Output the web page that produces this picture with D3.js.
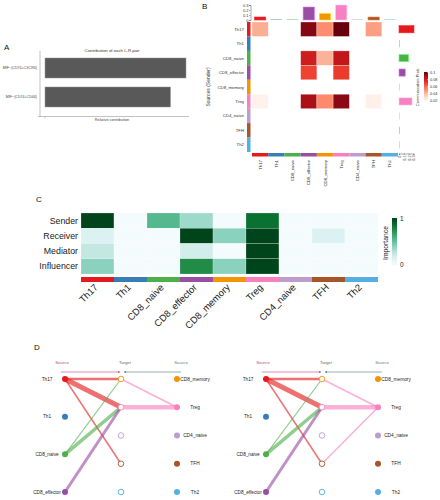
<!DOCTYPE html>
<html><head><meta charset="utf-8">
<script src="https://cdn.jsdelivr.net/npm/d3@7/dist/d3.min.js"></script>
<style>body{margin:0;background:#fff}svg{display:block;font-family:"Liberation Sans",Arial,sans-serif}</style>
</head><body>
<svg id="c" width="440" height="500"></svg>
<script>
// ---------- DATA ----------
const cellTypes = ["Th17","Th1","CD8_naive","CD8_effector","CD8_memory","Treg","CD4_naive","TFH","Th2"];
const cellColors = ["#E41A1C","#377EB8","#4DAF4A","#984EA3","#F29403","#F781BF","#BC9DCC","#A65628","#54B0E4"];

// Panel A
const lrPairs = ["MIF\u2212(CD74+CXCR4)","MIF\u2212(CD74+CD44)"];
const lrContribution = [1.0, 0.89];

// Panel B: communication probability (rows = sources, cols = targets)
const probTh17        = [0.042,0,0,0.095,0.050,0.100,0,0.046,0];
const probTh1         = [0,0,0,0,0,0,0,0,0];
const probCD8naive    = [0,0,0,0.079,0.041,0.082,0,0,0];
const probCD8effector = [0,0,0,0.068,0,0.070,0,0,0];
const probCD8memory   = [0,0,0,0,0,0,0,0,0];
const probTreg        = [0.020,0,0,0.088,0.051,0.094,0,0.021,0];
const probCD4naive    = [0,0,0,0,0,0,0,0,0];
const probTFH         = [0,0,0,0,0,0,0,0,0];
const probTh2         = [0,0,0,0,0,0,0,0,0];
const commProb = [probTh17,probTh1,probCD8naive,probCD8effector,probCD8memory,probTreg,probCD4naive,probTFH,probTh2];
const incomingTotal = [0.06,0,0,0.26,0.13,0.30,0,0.06,0];
const outgoingTotal = [0.31,0,0.20,0.13,0,0.27,0,0,0];
const barTicks = [0,0.1,0.2,0.3];
const probTicks = [0.02,0.04,0.06,0.08,0.1];

// Panel C: network centrality importance
const roles = ["Sender","Receiver","Mediator","Influencer"];
const impSender     = [1.0,0,0.55,0.35,0,0.85,0,0,0];
const impReceiver   = [0.15,0,0,1.0,0.4,1.0,0,0.15,0];
const impMediator   = [0.25,0,0,0.2,0,1.0,0,0,0];
const impInfluencer = [0.4,0,0,0.75,0.4,1.0,0,0,0];
const importance = [impSender,impReceiver,impMediator,impInfluencer];

// Panel D: hierarchy plots
const hierSources = ["Th17","Th1","CD8_naive","CD8_effector"];
const hierTargets = ["CD8_memory","Treg","CD4_naive","TFH","Th2"];
const edgesLeft = [
  {from:"Th17",side:"L",to:"CD8_memory",w:0.046},
  {from:"Th17",side:"L",to:"Treg",w:0.10},
  {from:"Th17",side:"L",to:"TFH",w:0.03},
  {from:"CD8_naive",side:"L",to:"CD8_memory",w:0.024},
  {from:"CD8_naive",side:"L",to:"Treg",w:0.07},
  {from:"CD8_effector",side:"L",to:"Treg",w:0.06},
  {from:"Treg",side:"R",to:"CD8_memory",w:0.032},
  {from:"Treg",side:"R",to:"Treg",w:0.09}
];
const edgesRight = [
  {from:"Th17",side:"L",to:"CD8_memory",w:0.046},
  {from:"Th17",side:"L",to:"Treg",w:0.10},
  {from:"Th17",side:"L",to:"TFH",w:0.03},
  {from:"CD8_naive",side:"L",to:"CD8_memory",w:0.024},
  {from:"CD8_naive",side:"L",to:"Treg",w:0.07},
  {from:"CD8_effector",side:"L",to:"Treg",w:0.06},
  {from:"Treg",side:"R",to:"CD8_memory",w:0.032},
  {from:"Treg",side:"R",to:"Treg",w:0.09},
  {from:"Treg",side:"R",to:"TFH",w:0.032}
];

// ---------- DRAW ----------
const svg = d3.select("#c");
const colorOf = d3.scaleOrdinal(cellTypes, cellColors);
const FONT = '"Liberation Sans",Arial,sans-serif';
const defs = svg.append("defs");

function panelLabel(t,x,y){ svg.append("text").attr("x",x).attr("y",y).attr("font-size",8).attr("fill","#111").text(t); }

// ===== Panel A =====
panelLabel("A",4,50);
{
  const g = svg.append("g");
  const x = d3.scaleLinear([0,1],[45,186]);
  const y = d3.scaleBand(lrPairs,[53.5,111.5]).paddingInner(0.31).paddingOuter(0.155);
  g.append("text").attr("x",112).attr("y",51.5).attr("text-anchor","middle").attr("font-size",4.3).attr("fill","#333").text("Contribution of each L-R pair");
  g.append("line").attr("x1",40).attr("x2",40).attr("y1",51).attr("y2",117).attr("stroke","#999").attr("stroke-width",0.6);
  g.append("line").attr("x1",38).attr("x2",189).attr("y1",116.5).attr("y2",116.5).attr("stroke","#999").attr("stroke-width",0.6);
  g.append("line").attr("x1",45).attr("x2",45).attr("y1",116.5).attr("y2",118.5).attr("stroke","#999").attr("stroke-width",0.5);
  g.selectAll("rect.a").data(lrPairs).join("rect").attr("class","a")
    .attr("x",x(0)).attr("y",d=>y(d)).attr("width",(d,i)=>x(lrContribution[i])-x(0)).attr("height",y.bandwidth())
    .attr("fill","#595959").attr("stroke","#9a9a9a").attr("stroke-width",0.5);
  g.selectAll("text.al").data(lrPairs).join("text").attr("class","al")
    .attr("x",37).attr("y",d=>y(d)+y.bandwidth()/2).attr("dy","0.35em").attr("text-anchor","end")
    .attr("font-size",3.6).attr("fill","#444").text(d=>d);
  g.append("text").attr("x",112).attr("y",120.5).attr("text-anchor","middle").attr("font-size",3.8).attr("fill","#444").text("Relative contribution");
}

// ===== Panel B =====
panelLabel("B",202,9);
{
  const g = svg.append("g");
  const x = d3.scaleBand(cellTypes,[252,398]);
  const y = d3.scaleBand(cellTypes,[22,152]);
  const probColor = v => d3.interpolateReds(Math.max(0,Math.min(1,(v-0.0185)/0.0815)));
  cellTypes.forEach((src,i)=>{
    g.selectAll(null).data(commProb[i].map((v,j)=>({v,t:cellTypes[j]})).filter(d=>d.v>0)).join("rect")
      .attr("x",d=>x(d.t)).attr("y",y(src)).attr("width",x.bandwidth()).attr("height",y.bandwidth())
      .attr("fill",d=>probColor(d.v)).attr("stroke","#fff").attr("stroke-opacity",0.6).attr("stroke-width",0.5);
  });
  g.selectAll("rect.lc").data(cellTypes).join("rect").attr("class","lc")
    .attr("x",247).attr("y",d=>y(d)).attr("width",3.5).attr("height",y.bandwidth()).attr("fill",d=>colorOf(d));
  g.selectAll("rect.bc").data(cellTypes).join("rect").attr("class","bc")
    .attr("x",d=>x(d)).attr("y",153).attr("width",x.bandwidth()).attr("height",3.5).attr("fill",d=>colorOf(d));
  g.selectAll("text.rl").data(cellTypes).join("text").attr("class","rl")
    .attr("x",244).attr("y",d=>y(d)+y.bandwidth()/2).attr("dy","0.35em").attr("text-anchor","end")
    .attr("font-size",4.3).attr("fill","#333").text(d=>d);
  g.selectAll("text.cl").data(cellTypes).join("text").attr("class","cl")
    .attr("transform",d=>`translate(${x(d)+x.bandwidth()/2+1.5},160) rotate(-90)`).attr("text-anchor","end")
    .attr("font-size",4.3).attr("fill","#333").text(d=>d);
  g.append("text").attr("transform","translate(210,87) rotate(-90)").attr("text-anchor","middle")
    .attr("font-size",5).attr("fill","#333").text("Sources (Sender)");
  const yt = d3.scaleLinear([0,0.3],[20,5]);
  g.selectAll("rect.tb").data(cellTypes).join("rect").attr("class","tb")
    .attr("x",d=>x(d)+x.bandwidth()*0.15).attr("width",x.bandwidth()*0.7)
    .attr("y",(d,i)=>incomingTotal[i]>0?yt(incomingTotal[i]):19.3)
    .attr("height",(d,i)=>incomingTotal[i]>0?yt(0)-yt(incomingTotal[i]):0.7)
    .attr("fill",d=>colorOf(d)).attr("stroke",(d,i)=>incomingTotal[i]>0?d3.color(colorOf(d)).brighter(1.2):"none").attr("stroke-width",0.6)
    .attr("opacity",(d,i)=>incomingTotal[i]>0?1:0.6);
  const ay = g.append("g").attr("transform","translate(250.5,0)").call(d3.axisLeft(yt).tickValues(barTicks).tickFormat(d3.format("~g")).tickSize(1.5));
  ay.select(".domain").attr("stroke","#555").attr("stroke-width",0.5);
  ay.selectAll("line").attr("stroke","#555").attr("stroke-width",0.5);
  ay.selectAll("text").attr("font-size",4).attr("fill","#333").attr("x",-2).attr("font-family",FONT);
  const xr = d3.scaleLinear([0,0.3],[399,413.5]);
  g.selectAll("rect.rb").data(cellTypes).join("rect").attr("class","rb")
    .attr("y",d=>y(d)+y.bandwidth()*0.25).attr("height",y.bandwidth()*0.5)
    .attr("x",xr(0)).attr("width",(d,i)=>outgoingTotal[i]>0?xr(outgoingTotal[i])-xr(0):0.6)
    .attr("fill",d=>colorOf(d)).attr("stroke",(d,i)=>outgoingTotal[i]>0?d3.color(colorOf(d)).brighter(1.2):"none").attr("stroke-width",0.6)
    .attr("opacity",(d,i)=>outgoingTotal[i]>0?1:0.6);
  const ax = g.append("g").attr("transform","translate(0,153.5)").call(d3.axisBottom(xr).tickValues(barTicks).tickFormat(d3.format("~g")).tickSize(1.5));
  ax.select(".domain").attr("stroke","#555").attr("stroke-width",0.5);
  ax.selectAll("line").attr("stroke","#555").attr("stroke-width",0.5);
  ax.selectAll("text").attr("font-size",3.8).attr("fill","#333").attr("font-family",FONT)
    .attr("transform","rotate(-90)").attr("text-anchor","end").attr("x",-2).attr("y",0).attr("dy","0.35em");
  const grad = defs.append("linearGradient").attr("id","gR").attr("x1",0).attr("x2",0).attr("y1",1).attr("y2",0);
  d3.range(0,1.01,0.1).forEach(t=>grad.append("stop").attr("offset",t).attr("stop-color",probColor(0.017+t*0.083)));
  const ly = d3.scaleLinear([0.02,0.1],[101,72.5]);
  g.append("rect").attr("x",424).attr("y",72).attr("width",4).attr("height",29.5).attr("fill","url(#gR)");
  g.selectAll("text.lg").data(probTicks).join("text").attr("class","lg")
    .attr("x",430).attr("y",d=>ly(d)).attr("dy","0.35em").attr("font-size",3.8).attr("fill","#333").text(d=>d3.format("~g")(d));
  g.selectAll("line.lg").data(probTicks).join("line").attr("class","lg")
    .attr("x1",427).attr("x2",428).attr("y1",d=>ly(d)).attr("y2",d=>ly(d)).attr("stroke","#fff").attr("stroke-width",0.4);
  g.append("text").attr("transform","translate(419,87) rotate(-90)").attr("text-anchor","middle")
    .attr("font-size",4).attr("fill","#333").text("Communication Prob.");
}

// ===== Panel C =====
panelLabel("C",36,202);
{
  const g = svg.append("g");
  const x = d3.scaleBand(cellTypes,[81,378]);
  const y = d3.scaleBand(roles,[213,274]);
  const col = v => d3.interpolateBuGn(0.02 + v*0.98);
  roles.forEach((r,i)=>{
    g.selectAll(null).data(importance[i].map((v,j)=>({v,t:cellTypes[j]}))).join("rect")
      .attr("x",d=>x(d.t)).attr("y",y(r)).attr("width",x.bandwidth()).attr("height",y.bandwidth())
      .attr("fill",d=>col(d.v)).attr("stroke","#fff").attr("stroke-width",0.4).attr("stroke-opacity",0.5);
  });
  g.selectAll("rect.cb").data(cellTypes).join("rect").attr("class","cb")
    .attr("x",d=>x(d)).attr("y",277).attr("width",x.bandwidth()).attr("height",5).attr("fill",d=>colorOf(d));
  g.selectAll("text.rl").data(roles).join("text").attr("class","rl")
    .attr("x",78).attr("y",d=>y(d)+y.bandwidth()/2).attr("dy","0.35em").attr("text-anchor","end")
    .attr("font-size",8.8).attr("fill","#222").text(d=>d);
  g.selectAll("text.cl").data(cellTypes).join("text").attr("class","cl")
    .attr("transform",d=>`translate(${x(d)+x.bandwidth()/2+1},288) rotate(-45)`).attr("text-anchor","end")
    .attr("font-size",9.5).attr("fill","#222").text(d=>d);
  const grad = defs.append("linearGradient").attr("id","gG").attr("x1",0).attr("x2",0).attr("y1",1).attr("y2",0);
  d3.range(0,1.01,0.1).forEach(t=>grad.append("stop").attr("offset",t).attr("stop-color",col(t)));
  const ly = d3.scaleLinear([0,1],[265,218.5]);
  g.append("rect").attr("x",392).attr("y",218).attr("width",5).attr("height",47.5).attr("fill","url(#gG)");
  g.selectAll("text.lg").data([0,1]).join("text").attr("class","lg")
    .attr("x",400).attr("y",d=>ly(d)).attr("dy","0.35em").attr("font-size",6.5).attr("fill","#222").text(d=>d);
  g.append("text").attr("transform","translate(388,243) rotate(-90)").attr("text-anchor","middle")
    .attr("font-size",6.8).attr("fill","#222").text("Importance");
}

// ===== Panel D =====
panelLabel("D",34,350);
function hierarchy(ox, edges, id){
  const g = svg.append("g").attr("transform",`translate(${ox},0)`);
  const xs = 65, xt = 121, xrr = 177;
  const ysrc = d3.scalePoint(hierSources,[379,492]);
  const ytg = d3.scalePoint(hierTargets,[379,492]);
  const wScale = d3.scaleLinear([0,0.1],[0,5]);
  g.append("text").attr("x",62).attr("y",364).attr("text-anchor","middle").attr("font-size",4.3).attr("fill","#b0508a").text("Source");
  g.append("text").attr("x",125).attr("y",364).attr("text-anchor","middle").attr("font-size",4.3).attr("fill","#666").text("Target");
  g.append("text").attr("x",181).attr("y",364).attr("text-anchor","middle").attr("font-size",4.3).attr("fill","#5f8580").text("Source");
  defs.append("marker").attr("id","mp"+id).attr("viewBox","0 0 10 10").attr("refX",9).attr("refY",5)
    .attr("markerWidth",4).attr("markerHeight",4).attr("orient","auto")
    .append("path").attr("d","M0,1L10,5L0,9Z").attr("fill","#c2407f");
  defs.append("marker").attr("id","mg"+id).attr("viewBox","0 0 10 10").attr("refX",9).attr("refY",5)
    .attr("markerWidth",4).attr("markerHeight",4).attr("orient","auto")
    .append("path").attr("d","M0,1L10,5L0,9Z").attr("fill","#4a7a72");
  g.append("line").attr("x1",61).attr("x2",120).attr("y1",372).attr("y2",372).attr("stroke","#c2407f").attr("stroke-width",0.6).attr("marker-end",`url(#mp${id})`);
  g.append("line").attr("x1",181).attr("x2",124).attr("y1",372).attr("y2",372).attr("stroke","#4a7a72").attr("stroke-width",0.6).attr("marker-end",`url(#mg${id})`);
  g.selectAll("line.e").data(edges).join("line").attr("class","e")
    .attr("x1",d=>d.side==="L"?xs:xrr).attr("y1",d=>d.side==="L"?ysrc(d.from):ytg(d.from))
    .attr("x2",xt).attr("y2",d=>ytg(d.to))
    .attr("stroke",d=>colorOf(d.from)).attr("stroke-opacity",0.62).attr("stroke-width",d=>wScale(d.w));
  g.selectAll("circle.s").data(hierSources).join("circle").attr("class","s")
    .attr("cx",xs).attr("cy",d=>ysrc(d)).attr("r",3).attr("fill",d=>colorOf(d));
  g.selectAll("text.s").data(hierSources).join("text").attr("class","s")
    .attr("x",47).attr("y",d=>ysrc(d)).attr("dy","0.35em").attr("text-anchor","middle")
    .attr("font-size",4.7).attr("fill","#222").text(d=>d);
  g.selectAll("circle.t").data(hierTargets).join("circle").attr("class","t")
    .attr("cx",xt).attr("cy",d=>ytg(d)).attr("r",2.8).attr("fill","#fff")
    .attr("stroke",d=>colorOf(d)).attr("stroke-width",0.9);
  g.selectAll("circle.r").data(hierTargets).join("circle").attr("class","r")
    .attr("cx",xrr).attr("cy",d=>ytg(d)).attr("r",3).attr("fill",d=>colorOf(d));
  g.selectAll("text.r").data(hierTargets).join("text").attr("class","r")
    .attr("x",195).attr("y",d=>ytg(d)).attr("dy","0.35em").attr("text-anchor","middle")
    .attr("font-size",4.8).attr("fill","#222").text(d=>d);
}
hierarchy(0, edgesLeft, "L");
hierarchy(201, edgesRight, "R");
</script>
</body></html>
